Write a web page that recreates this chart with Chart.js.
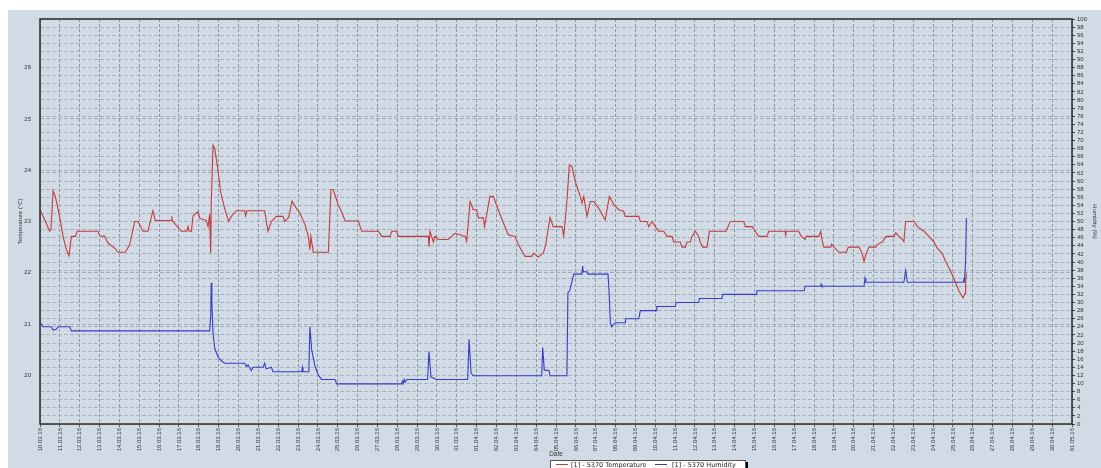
<!DOCTYPE html>
<html><head><meta charset="utf-8">
<script src="https://cdn.jsdelivr.net/npm/chart.js@4.4.1/dist/chart.umd.min.js"></script>
<style>
html,body{margin:0;padding:0;width:1101px;height:468px;overflow:hidden;background:#fff;}
#c{position:absolute;left:0;top:0;}
#legend{position:absolute;left:550px;top:460px;width:194px;height:14px;background:#fff;border:1px solid #555;box-shadow:2px 2px 0 #000;font:6.5px "DejaVu Sans",sans-serif;color:#222;white-space:nowrap;}
#legend .sw{position:absolute;top:3px;width:12px;height:0;border-top:1px solid;}
#legend .tx{position:absolute;top:0px;}
</style></head>
<body>
<canvas id="c" width="1101" height="468"></canvas>
<div id="legend">
  <span class="sw" style="left:5px;border-color:#c83a3a"></span><span class="tx" style="left:20px">[1] - 5370 Temperature</span>
  <span class="sw" style="left:104px;border-color:#3a3ac8"></span><span class="tx" style="left:121px">[1] - 5370 Humidity</span>
</div>
<script>
// Tick labels (one per day, 10.03.16 .. 01.05.16)
const dateLabels = ['10.03.16','11.03.16','12.03.16','13.03.16','14.03.16','15.03.16','16.03.16','17.03.16','18.03.16','19.03.16','20.03.16','21.03.16','22.03.16','23.03.16','24.03.16','25.03.16','26.03.16','27.03.16','28.03.16','29.03.16','30.03.16','31.03.16','01.04.16','02.04.16','03.04.16','04.04.16','05.04.16','06.04.16','07.04.16','08.04.16','09.04.16','10.04.16','11.04.16','12.04.16','13.04.16','14.04.16','15.04.16','16.04.16','17.04.16','18.04.16','19.04.16','20.04.16','21.04.16','22.04.16','23.04.16','24.04.16','25.04.16','26.04.16','27.04.16','28.04.16','29.04.16','30.04.16','01.05.16'];
const tempTicks = [20,21,22,23,24,25,26];

// [day since 10.03.16, temperature °C]
const temperatureReadings = [[0.03,23.21],[0.24,23.03],[0.49,22.81],[0.55,22.84],[0.66,23.60],[0.77,23.49],[0.99,23.10],[1.16,22.71],[1.33,22.45],[1.46,22.33],[1.58,22.71],[1.78,22.71],[1.88,22.81],[2.92,22.81],[3.01,22.72],[3.26,22.71],[3.43,22.58],[3.76,22.48],[3.93,22.40],[4.30,22.40],[4.52,22.55],[4.77,23.00],[4.94,23.00],[5.19,22.81],[5.44,22.81],[5.69,23.21],[5.81,23.02],[6.62,23.02],[6.64,23.10],[6.66,23.02],[6.79,22.96],[7.12,22.81],[7.40,22.81],[7.46,22.90],[7.52,22.81],[7.63,22.81],[7.71,23.11],[7.96,23.19],[8.05,23.06],[8.38,23.02],[8.47,22.90],[8.55,23.14],[8.60,22.38],[8.63,23.36],[8.72,24.49],[8.80,24.43],[8.97,24.00],[9.10,23.58],[9.30,23.26],[9.51,23.00],[9.64,23.10],[9.89,23.21],[10.31,23.21],[10.36,23.11],[10.42,23.21],[11.32,23.21],[11.49,22.81],[11.66,23.00],[11.91,23.10],[12.24,23.10],[12.33,23.00],[12.53,23.08],[12.70,23.40],[12.86,23.29],[13.10,23.16],[13.35,22.94],[13.52,22.71],[13.60,22.45],[13.65,22.71],[13.77,22.40],[14.53,22.40],[14.66,23.62],[14.78,23.62],[15.03,23.32],[15.20,23.19],[15.37,23.01],[16.04,23.01],[16.21,22.81],[17.05,22.81],[17.22,22.71],[17.64,22.71],[17.72,22.81],[17.97,22.81],[18.05,22.71],[19.57,22.71],[19.60,22.51],[19.65,22.81],[19.82,22.60],[19.90,22.71],[20.07,22.65],[20.57,22.65],[20.74,22.71],[20.91,22.77],[21.42,22.71],[21.50,22.61],[21.67,23.39],[21.83,23.23],[22.00,23.23],[22.09,23.07],[22.34,23.07],[22.40,22.90],[22.67,23.49],[22.84,23.49],[23.09,23.23],[23.35,22.97],[23.60,22.74],[23.93,22.71],[24.10,22.55],[24.44,22.32],[24.78,22.32],[24.86,22.38],[25.11,22.31],[25.36,22.38],[25.48,22.55],[25.70,23.08],[25.86,22.90],[26.30,22.90],[26.39,22.72],[26.55,23.39],[26.67,24.10],[26.81,24.07],[26.97,23.78],[27.22,23.49],[27.31,23.36],[27.40,23.49],[27.56,23.10],[27.73,23.39],[27.90,23.39],[28.15,23.26],[28.48,23.03],[28.69,23.49],[28.91,23.33],[29.16,23.23],[29.41,23.20],[29.49,23.10],[30.17,23.10],[30.25,23.00],[30.59,23.00],[30.67,22.90],[30.84,23.00],[31.00,22.90],[31.17,22.81],[31.43,22.81],[31.59,22.71],[31.85,22.71],[31.93,22.60],[32.26,22.60],[32.35,22.50],[32.52,22.50],[32.60,22.60],[32.77,22.60],[32.85,22.71],[33.02,22.81],[33.19,22.71],[33.27,22.60],[33.39,22.50],[33.61,22.50],[33.73,22.81],[34.57,22.81],[34.78,23.00],[35.46,23.00],[35.54,22.90],[35.88,22.90],[36.04,22.81],[36.21,22.71],[36.63,22.71],[36.72,22.81],[37.55,22.81],[37.57,22.71],[37.60,22.81],[38.23,22.81],[38.36,22.71],[38.56,22.65],[38.60,22.71],[39.25,22.71],[39.34,22.81],[39.42,22.61],[39.50,22.50],[39.84,22.50],[39.89,22.56],[40.01,22.50],[40.26,22.40],[40.63,22.40],[40.73,22.50],[41.27,22.50],[41.43,22.37],[41.52,22.22],[41.61,22.35],[41.77,22.50],[42.11,22.50],[42.19,22.55],[42.44,22.60],[42.64,22.71],[43.03,22.71],[43.12,22.78],[43.28,22.71],[43.45,22.65],[43.53,22.61],[43.58,22.85],[43.62,23.00],[44.04,23.00],[44.21,22.90],[44.54,22.81],[44.79,22.71],[45.05,22.60],[45.21,22.48],[45.46,22.38],[45.63,22.22],[45.89,22.03],[46.14,21.80],[46.31,21.64],[46.51,21.51],[46.61,21.60],[46.64,21.80],[46.68,21.99]];

// [day since 10.03.16, humidity %]
const humidityReadings = [[0.03,25.0],[0.15,24.0],[0.57,24.0],[0.66,23.2],[0.82,23.4],[0.91,24.0],[1.50,24.0],[1.58,23.0],[8.55,23.0],[8.60,26.5],[8.63,34.9],[8.66,30.0],[8.72,22.4],[8.80,18.7],[8.97,16.6],[9.10,15.8],[9.30,15.0],[10.31,15.0],[10.40,14.2],[10.48,14.6],[10.65,13.2],[10.73,14.0],[11.24,14.0],[11.32,15.0],[11.40,13.6],[11.66,14.0],[11.74,12.9],[13.19,12.9],[13.22,14.0],[13.25,12.9],[13.52,12.9],[13.55,14.0],[13.60,24.0],[13.69,18.3],[13.86,14.2],[14.02,12.1],[14.19,11.0],[14.86,11.0],[14.95,9.9],[18.22,9.9],[18.26,10.6],[18.30,10.0],[18.35,11.0],[18.40,10.3],[18.48,11.0],[19.53,11.0],[19.60,17.9],[19.70,11.6],[19.99,11.0],[21.55,11.0],[21.62,20.9],[21.72,12.6],[21.83,11.9],[25.28,11.9],[25.33,18.9],[25.41,13.3],[25.65,13.2],[25.70,11.9],[26.55,11.9],[26.60,32.4],[26.70,33.0],[26.89,37.0],[27.31,37.0],[27.34,39.0],[27.37,37.6],[27.56,37.6],[27.60,37.0],[28.62,37.0],[28.66,34.0],[28.74,25.0],[28.80,24.0],[28.90,24.6],[29.00,25.0],[29.49,25.0],[29.50,26.0],[30.17,26.0],[30.25,28.0],[31.04,28.0],[31.08,29.0],[32.01,29.0],[32.05,30.0],[33.19,30.0],[33.23,31.0],[34.36,31.0],[34.40,32.0],[36.08,32.0],[36.12,32.9],[38.50,32.9],[38.55,34.0],[39.34,34.0],[39.36,34.5],[39.40,34.0],[41.52,34.0],[41.57,36.0],[41.61,35.0],[43.53,35.0],[43.62,37.9],[43.70,35.0],[46.51,35.0],[46.55,36.0],[46.58,35.0],[46.64,40.5],[46.68,50.8]];

const FONT = 'Liberation Sans';

const bgPlugin = {
  id:'bg',
  beforeDraw(chart){
    const c = chart.ctx;
    c.save();
    c.fillStyle = '#ffffff'; c.fillRect(0,0,chart.width,chart.height);
    c.fillStyle = '#d0dbe6'; c.fillRect(8,10,chart.width-8,chart.height-10);
    c.restore();
  },
  afterDraw(chart){
    const a = chart.chartArea, c = chart.ctx;
    c.save();
    c.strokeStyle = '#2a2a2a'; c.lineWidth = 1.5;
    c.strokeRect(a.left, a.top, a.right-a.left, a.bottom-a.top);
    c.restore();
  }
};

new Chart(document.getElementById('c'), {
  type:'line',
  data:{datasets:[
    {label:'[1] - 5370 Temperature', data: temperatureReadings.map(p=>({x:p[0],y:p[1]})), yAxisID:'yT',
     borderColor:'#c83a3a', borderWidth:1.1, pointRadius:0, tension:0, fill:false},
    {label:'[1] - 5370 Humidity', data: humidityReadings.map(p=>({x:p[0],y:p[1]})), yAxisID:'yH',
     borderColor:'#3a3ac8', borderWidth:1.1, pointRadius:0, tension:0, fill:false}
  ]},
  options:{
    responsive:false, animation:false, devicePixelRatio:1,
    layout:{padding:{top:19,left:0,right:0,bottom:0}},
    plugins:{legend:{display:false}, tooltip:{enabled:false}},
    scales:{
      x:{type:'linear', position:'bottom', min:0, max:dateLabels.length-1,
        afterBuildTicks(s){ s.ticks = dateLabels.map((_,i)=>({value:i})); },
        afterFit(s){ s.height = 44; },
        ticks:{autoSkip:false, minRotation:90, maxRotation:90, padding:1, color:'#333',
          font:{size:6, family:FONT}, callback:(v)=>dateLabels[v]},
        grid:{color:'#8d959e', lineWidth:1, tickLength:3, tickColor:'#555'},
        border:{display:false, dash:[3,2]},
        title:{display:true, text:'Date', color:'#333', font:{size:6.5, family:FONT}, padding:{top:0,bottom:9.4}}
      },
      yT:{type:'linear', position:'left', min:19.05, max:26.95,
        afterBuildTicks(s){ s.ticks = tempTicks.map(v=>({value:v})); },
        afterFit(s){ s.width = 40; },
        ticks:{padding:9, color:'#333', font:{size:6, family:FONT}, callback:(v)=>String(v)},
        grid:{color:'#a4adb7', lineWidth:1, drawTicks:false},
        border:{display:false, dash:[4,2]},
        title:{display:true, text:'Temperature (°C)', color:'#333', font:{size:6, family:FONT}, padding:{top:16.4,bottom:0}}
      },
      yH:{type:'linear', position:'right', min:0, max:100,
        afterFit(s){ s.width = 29; },
        ticks:{stepSize:2, autoSkip:false, padding:2, color:'#333', font:{size:6, family:FONT}},
        grid:{color:'#a9b2bc', lineWidth:1, tickLength:3, tickColor:'#444'},
        border:{display:false, dash:[4,2]},
        title:{display:true, text:'Humidity (%)', color:'#333', font:{size:6, family:FONT}, padding:{top:2.4,bottom:0}}
      }
    }
  },
  plugins:[bgPlugin]
});
</script>
</body></html>
